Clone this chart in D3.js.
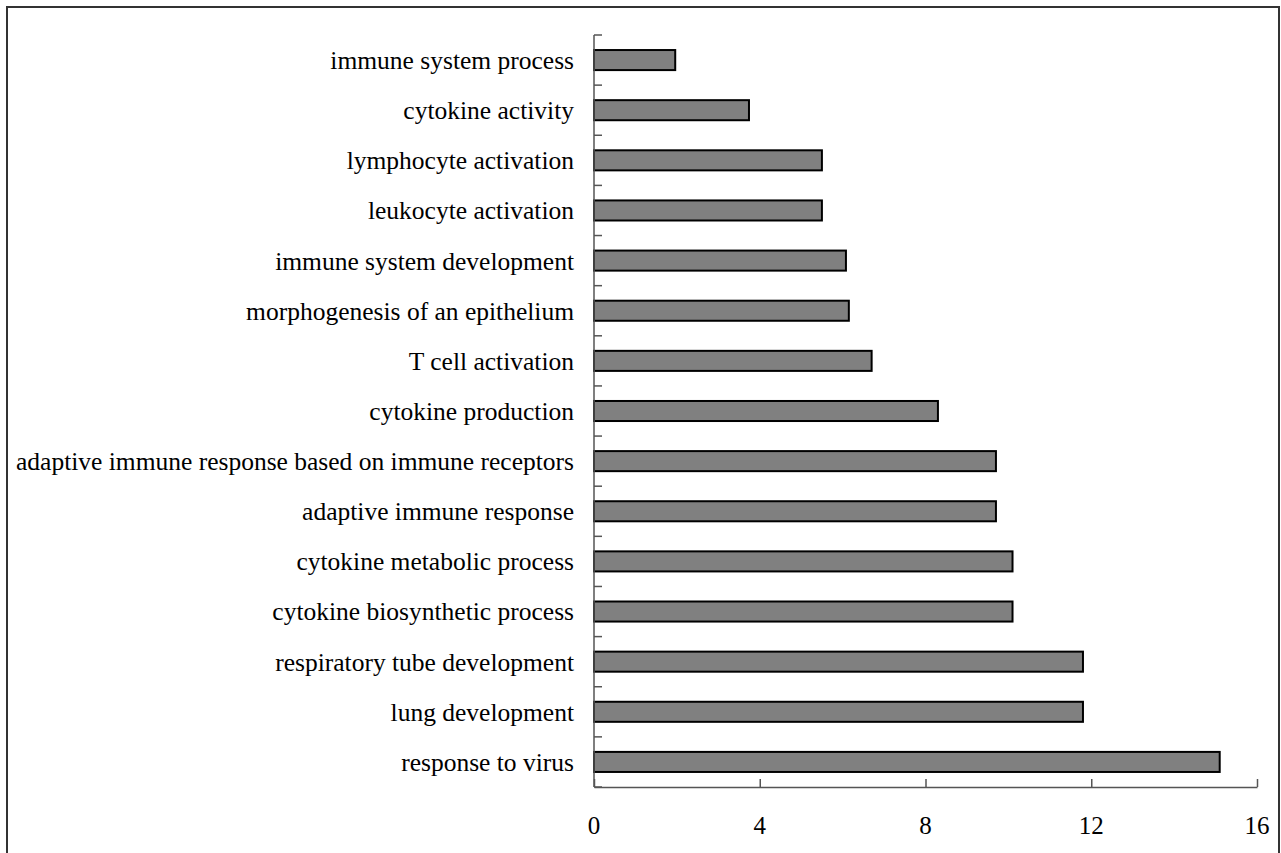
<!DOCTYPE html>
<html>
<head>
<meta charset="utf-8">
<script src="https://cdn.jsdelivr.net/npm/d3@7"></script>
<style>
  body { margin: 0; background: #fff; }
  text { font-family: "Liberation Serif", "Times New Roman", serif; fill: #000; }
</style>
</head>
<body>
<div id="chart"></div>
<script>
// Data ---------------------------------------------------------------------
const terms = [
  "immune system process",
  "cytokine activity",
  "lymphocyte activation",
  "leukocyte activation",
  "immune system development",
  "morphogenesis of an epithelium",
  "T cell activation",
  "cytokine production",
  "adaptive immune response based on immune receptors",
  "adaptive immune response",
  "cytokine metabolic process",
  "cytokine biosynthetic process",
  "respiratory tube development",
  "lung development",
  "response to virus"
];
const values = [1.96, 3.74, 5.5, 5.5, 6.08, 6.15, 6.7, 8.3, 9.7, 9.7, 10.1, 10.1, 11.8, 11.8, 15.1];
const xTicks = [0, 4, 8, 12, 16];

const rows = terms.map((t, i) => ({term: t, value: values[i]}));

// Dimensions -----------------------------------------------------------------
const width = 1281, height = 853;
const margin = {top: 35, right: 24, bottom: 66, left: 594};

const svg = d3.select("#chart").append("svg")
  .attr("width", width)
  .attr("height", height);

// outer frame
svg.append("rect")
  .attr("x", 7).attr("y", 7)
  .attr("width", 1272).attr("height", 860)
  .attr("fill", "none")
  .attr("stroke", "#333")
  .attr("stroke-width", 2);

// Scales -----------------------------------------------------------------------
const x = d3.scaleLinear()
  .domain([0, 16])
  .range([margin.left, width - margin.right]);

const y = d3.scaleBand()
  .domain(terms)
  .range([margin.top, height - margin.bottom])
  .paddingInner(0.6)
  .paddingOuter(0.3);

// Bars -------------------------------------------------------------------------
svg.selectAll(".bar")
  .data(rows)
  .enter()
  .append("rect")
  .attr("class", "bar")
  .attr("x", x(0))
  .attr("y", d => y(d.term))
  .attr("width", d => x(d.value) - x(0))
  .attr("height", y.bandwidth())
  .attr("fill", "#808080")
  .attr("stroke", "#000")
  .attr("stroke-width", 2);

// Y axis: line + ticks at band boundaries
const step = y.step();
const yBottom = height - margin.bottom;
const boundaries = d3.range(terms.length + 1).map(i => margin.top + i * step);

const yAxis = svg.append("g");
yAxis.append("line")
  .attr("x1", x(0)).attr("x2", x(0))
  .attr("y1", margin.top).attr("y2", yBottom)
  .attr("stroke", "#555").attr("stroke-width", 1.5);
yAxis.selectAll(".ytick")
  .data(boundaries)
  .enter()
  .append("line")
  .attr("x1", x(0)).attr("x2", x(0) + 8)
  .attr("y1", d => d).attr("y2", d => d)
  .attr("stroke", "#555").attr("stroke-width", 1.5);

yAxis.selectAll(".ylabel")
  .data(terms)
  .enter()
  .append("text")
  .attr("x", x(0) - 20)
  .attr("y", d => y(d) + y.bandwidth() / 2)
  .attr("dy", "0.35em")
  .attr("text-anchor", "end")
  .style("font-size", "25.5px")
  .text(d => d);

// X axis -------------------------------------------------------------------------
const xAxis = svg.append("g")
  .attr("transform", `translate(0,${yBottom})`)
  .call(d3.axisTop(x).tickValues(xTicks).tickSize(8).tickSizeOuter(0).tickFormat(""));
xAxis.select(".domain").attr("stroke", "#555").attr("stroke-width", 1.5);
xAxis.selectAll(".tick line").attr("stroke", "#555").attr("stroke-width", 1.5);

svg.append("g").selectAll(".xlabel")
  .data(xTicks)
  .enter()
  .append("text")
  .attr("x", d => x(d))
  .attr("y", yBottom + 38)
  .attr("dy", "0.35em")
  .attr("text-anchor", "middle")
  .style("font-size", "25px")
  .text(d => d);
</script>
</body>
</html>
